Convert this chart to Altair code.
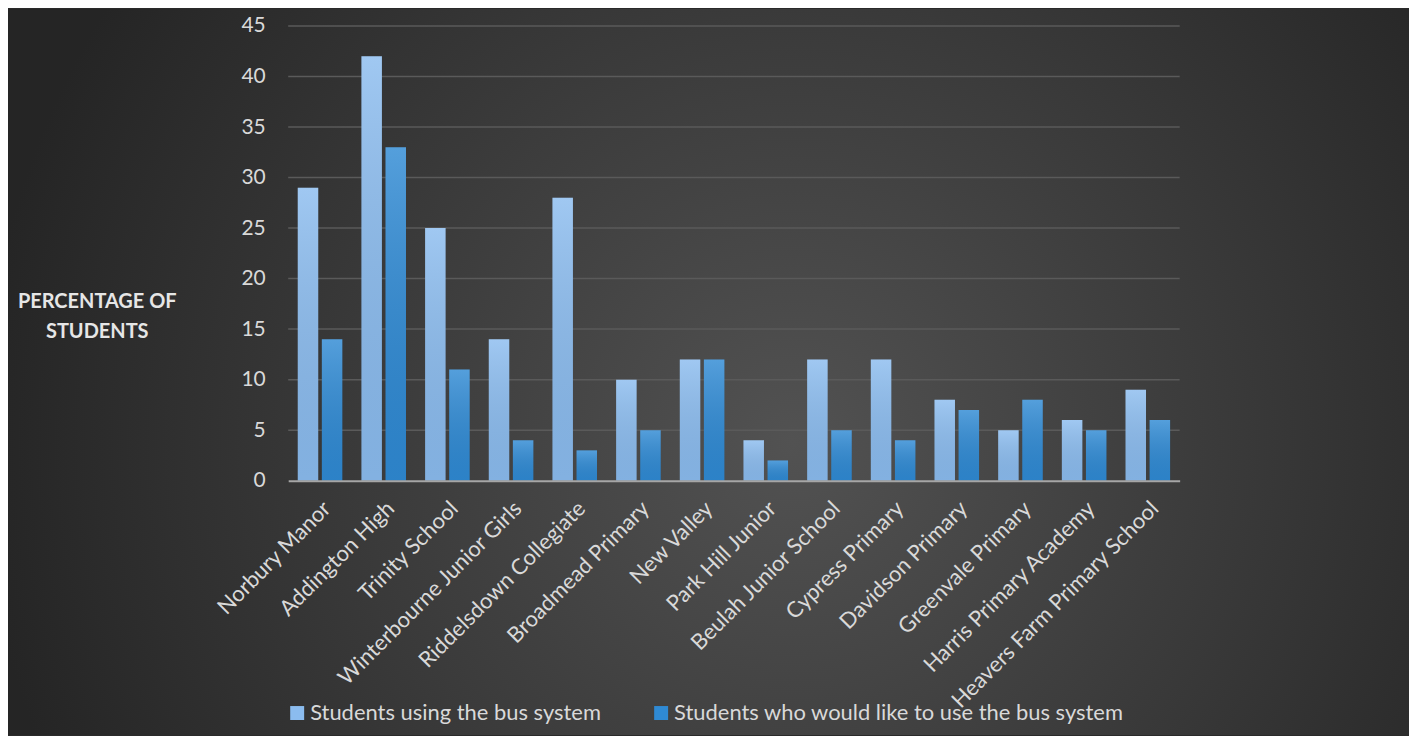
import altair as alt
import pandas as pd

schools = [
    "Norbury Manor", "Addington High", "Trinity School", "Winterbourne Junior Girls",
    "Riddelsdown Collegiate", "Broadmead Primary", "New Valley", "Park Hill Junior",
    "Beulah Junior School", "Cypress Primary", "Davidson Primary", "Greenvale Primary",
    "Harris Primary Academy", "Heavers Farm Primary School",
]
using_bus = [29, 42, 25, 14, 28, 10, 12, 4, 12, 12, 8, 5, 6, 9]
would_like = [14, 33, 11, 4, 3, 5, 12, 2, 5, 4, 7, 8, 5, 6]
series_names = ["Students using the bus system", "Students who would like to use the bus system"]
y_ticks = [0, 5, 10, 15, 20, 25, 30, 35, 40, 45]

rows = []
for s, u, w in zip(schools, using_bus, would_like):
    rows.append({"school": s, "series": series_names[0], "value": u})
    rows.append({"school": s, "series": series_names[1], "value": w})
df = pd.DataFrame(rows)
grid_df = pd.DataFrame({"v": y_ticks[1:]})

W, H = 894, 456
PL, PT, PR, PB = 281, 17, 230, 255
FONT = "Lato"
LABEL = "#d9d9d9"

bg = alt.Chart(pd.DataFrame({"k": [0]})).mark_rect(
    fill={
        "gradient": "radial",
        "x1": 0.56, "y1": 0.55, "r1": 0,
        "x2": 0.56, "y2": 0.55, "r2": 0.58,
        "stops": [
            {"offset": 0, "color": "#525252"},
            {"offset": 1, "color": "#252525"},
        ],
    }
).encode(
    x=alt.value(-PL), x2=alt.value(W + PR),
    y=alt.value(-PT), y2=alt.value(H + PB),
)

grid = alt.Chart(grid_df).mark_rule(color="#5a5a5a", strokeWidth=1.5).encode(
    y=alt.Y("v:Q")
)

x_enc = alt.X(
    "school:N", sort=schools, title=None,
    scale=alt.Scale(paddingInner=0.3, paddingOuter=0.15),
    axis=alt.Axis(
        labelAngle=-45, labelFontSize=22, labelColor=LABEL, labelFont=FONT,
        ticks=False, domain=True, domainColor="#a6a6a6", domainWidth=2,
        labelPadding=17, grid=False, labelLimit=0, zindex=1,
    ),
)
xo_enc = alt.XOffset("series:N", sort=series_names, scale=alt.Scale(paddingInner=0.15))
y_enc = alt.Y(
    "value:Q",
    scale=alt.Scale(domain=[0, 45], nice=False),
    title=["PERCENTAGE OF", "STUDENTS"],
    axis=alt.Axis(
        values=y_ticks, labelFontSize=21, labelColor=LABEL, labelFont=FONT,
        ticks=False, domain=False, labelPadding=23, grid=False, zindex=1,
        titleAngle=0, titleAlign="center", titleBaseline="alphabetic",
        titleX=-192, titleY=282, titleFont=FONT, titleFontSize=20,
        titleFontWeight="bold", titleColor="#e6e6e6", titleLineHeight=30,
    ),
)

bars = alt.Chart(df).mark_bar().encode(
    x=x_enc,
    xOffset=xo_enc,
    y=y_enc,
    color=alt.Color(
        "series:N", sort=series_names,
        scale=alt.Scale(domain=series_names, range=["#8bbcef", "#2f8ad4"]),
        legend=alt.Legend(
            title=None, orient="none", direction="horizontal",
            legendX=-2, legendY=678, columnPadding=49,
            symbolType="square", symbolSize=196, symbolStrokeWidth=0,
            labelFontSize=22, labelColor=LABEL, labelFont=FONT, labelLimit=0,
            symbolOffset=0, labelOffset=2,
        ),
    ),
)

overlay = alt.Chart(df).mark_bar(
    fill={
        "gradient": "linear", "x1": 0, "y1": 0, "x2": 0, "y2": 1,
        "stops": [
            {"offset": 0, "color": "rgba(255,255,255,0.18)"},
            {"offset": 1, "color": "rgba(0,0,0,0.06)"},
        ],
    }
).encode(
    x=alt.X("school:N", sort=schools),
    xOffset=alt.XOffset("series:N", sort=series_names),
    y=alt.Y("value:Q"),
)

chart = alt.layer(bg, grid, bars, overlay).properties(
    width=W, height=H,
    autosize=alt.AutoSizeParams(type="none"),
    padding={"left": PL, "top": PT, "right": PR, "bottom": PB},
    background="#2a2a2a",
).configure_view(stroke=None)

chart.save("out.html", embed_options={"renderer": "svg", "actions": False})
